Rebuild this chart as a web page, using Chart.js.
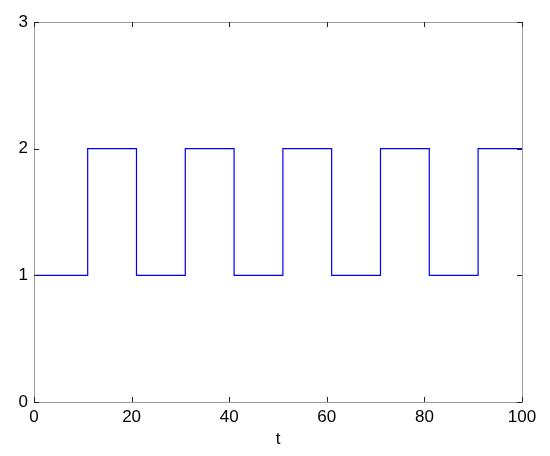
<!DOCTYPE html>
<html>
<head>
<meta charset="utf-8">
<script src="https://cdn.jsdelivr.net/npm/chart.js@4/dist/chart.umd.min.js"></script>
<style>
html,body{margin:0;padding:0;background:#fff;}
#wrap{width:550px;height:456px;position:relative;}
</style>
</head>
<body>
<div id="wrap"><canvas id="c" width="550" height="456"></canvas></div>
<script>
// Data (stairs): value holds from each t until the next t
const tValues = [0, 11, 21, 31, 41, 51, 61, 71, 81, 91, 100];
const yValues = [1, 2, 1, 2, 1, 2, 1, 2, 1, 2, 2];
const xTickLabels = [0, 20, 40, 60, 80, 100];
const yTickLabels = [0, 1, 2, 3];
const xAxisTitle = 't';

const FONT = {family: '"Liberation Sans", Arial, sans-serif', size: 17};

const boxPlugin = {
  id: 'matlabBox',
  afterDatasetsDraw(chart) {
    const {ctx, chartArea: a, scales} = chart;
    ctx.save();
    ctx.strokeStyle = '#9a9a9a';
    ctx.lineWidth = 1;
    ctx.strokeRect(Math.round(a.left) + 0.5, Math.round(a.top) + 0.5,
      Math.round(a.right - a.left), Math.round(a.bottom - a.top));
    ctx.strokeStyle = '#222';
    const L = 5;
    ctx.beginPath();
    xTickLabels.forEach(v => {
      const x = Math.round(scales.x.getPixelForValue(v)) + 0.5;
      ctx.moveTo(x, a.bottom); ctx.lineTo(x, a.bottom - L);
      ctx.moveTo(x, a.top); ctx.lineTo(x, a.top + L);
    });
    yTickLabels.forEach(v => {
      const y = Math.round(scales.y.getPixelForValue(v)) + 0.5;
      ctx.moveTo(a.left, y); ctx.lineTo(a.left + L, y);
      ctx.moveTo(a.right, y); ctx.lineTo(a.right - L, y);
    });
    ctx.stroke();
    ctx.restore();
  }
};

new Chart(document.getElementById('c'), {
  type: 'line',
  data: {
    datasets: [{
      data: tValues.map((t, i) => ({x: t, y: yValues[i]})),
      borderColor: '#0000ff',
      borderWidth: 1.2,
      pointRadius: 0,
      stepped: 'before',
      fill: false
    }]
  },
  options: {
    responsive: false,
    animation: false,
    events: [],
    layout: {padding: {left: 0, top: 22, right: 28, bottom: 0}},
    plugins: {legend: {display: false}, tooltip: {enabled: false}},
    scales: {
      x: {
        type: 'linear', min: 0, max: 100,
        afterBuildTicks(s) { s.ticks = xTickLabels.map(v => ({value: v})); },
        afterFit(s) { s.height = 54; },
        grid: {display: false, drawTicks: false},
        border: {display: false},
        ticks: {font: FONT, color: '#000', padding: 5, maxRotation: 0},
        title: {display: true, text: xAxisTitle, font: FONT, color: '#000', padding: {top: 0, bottom: 6}}
      },
      y: {
        type: 'linear', min: 0, max: 3,
        afterBuildTicks(s) { s.ticks = yTickLabels.map(v => ({value: v})); },
        afterFit(s) { s.width = 34; },
        grid: {display: false, drawTicks: false},
        border: {display: false},
        ticks: {font: FONT, color: '#000', padding: 6}
      }
    }
  },
  plugins: [boxPlugin]
});
</script>
</body>
</html>
